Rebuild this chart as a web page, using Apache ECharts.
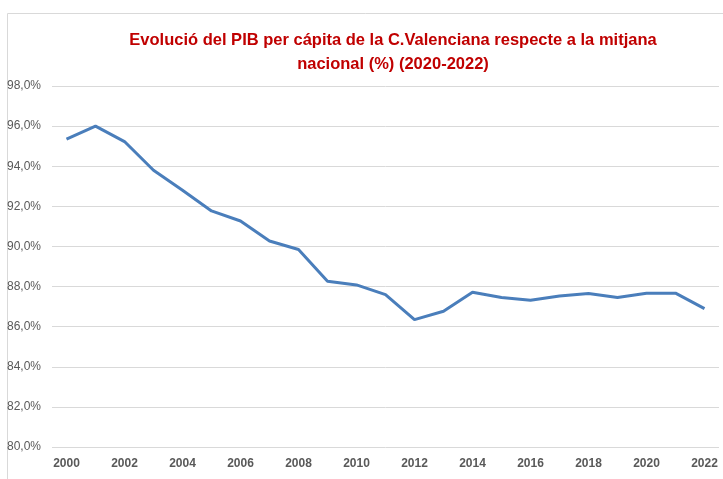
<!DOCTYPE html>
<html>
<head>
<meta charset="utf-8">
<script src="https://cdn.jsdelivr.net/npm/echarts@6/dist/echarts.min.js"></script>
<style>
  html, body { margin: 0; padding: 0; background: #fff; }
  #chart { width: 723px; height: 479px; }
</style>
</head>
<body>
<div id="chart"></div>
<script>
const years = ['2000', '2001', '2002', '2003', '2004', '2005', '2006', '2007', '2008', '2009', '2010', '2011',
  '2012', '2013', '2014', '2015', '2016', '2017', '2018', '2019', '2020', '2021', '2022']
const pibValues = [95.35, 96.0, 95.23, 93.8, 92.8, 91.77, 91.27, 90.27, 89.85, 88.27, 88.08, 87.6,
  86.35, 86.77, 87.72, 87.45, 87.32, 87.53, 87.65, 87.45, 87.67, 87.67, 86.9]

const chart = echarts.init(document.getElementById('chart'))
const font = '"Liberation Sans", Arial, sans-serif'

const option = {
  animation: false,
  title: {
    text: 'Evolució del PIB per cápita de la C.Valenciana respecte a la mitjana\nnacional (%) (2020-2022)',
    left: 388,
    top: 23,
    textAlign: 'center',
    textStyle: {
      color: '#C00000',
      fontFamily: font,
      fontWeight: 'bold',
      fontSize: 16.5,
      lineHeight: 24
    }
  },
  graphic: [{
    type: 'rect',
    shape: { x: 7.5, y: 13.5, width: 800, height: 600 },
    style: { fill: 'none', stroke: '#D9D9D9', lineWidth: 1 },
    silent: true
  }],
  grid: {
    left: 52,
    right: 4,
    top: 86,
    bottom: 32
  },
  xAxis: {
    type: 'category',
    data: years,
    boundaryGap: true,
    axisLine: { show: false },
    axisTick: { show: false },
    axisLabel: {
      interval: 1,
      color: '#595959',
      fontFamily: font,
      fontWeight: 'bold',
      fontSize: 12,
      margin: 11
    }
  },
  yAxis: {
    type: 'value',
    min: 80,
    max: 98,
    interval: 2,
    axisLine: { show: false },
    axisTick: { show: false },
    splitLine: { lineStyle: { color: '#D9D9D9', width: 1 } },
    axisLabel: {
      color: '#595959',
      fontFamily: font,
      fontSize: 12,
      margin: 11,
      formatter: v => v.toFixed(1).replace('.', ',') + '%'
    }
  },
  series: [{
    type: 'line',
    data: pibValues,
    symbol: 'none',
    lineStyle: { color: '#4A7EBB', width: 3 }
  }]
}

chart.setOption(option)
</script>
</body>
</html>
